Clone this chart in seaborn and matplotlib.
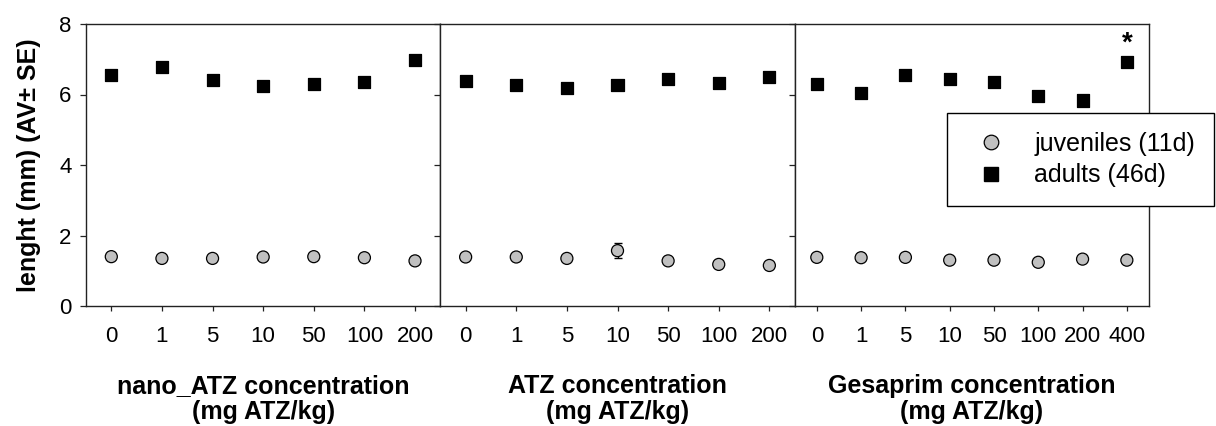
import numpy as np
import pandas as pd
import matplotlib
matplotlib.use('Agg')
import matplotlib.pyplot as plt
from matplotlib.lines import Line2D
import seaborn as sns

# concentrations per product (mg ATZ/kg)
nano_conc = ['0', '1', '5', '10', '50', '100', '200']
atz_conc = ['0', '1', '5', '10', '50', '100', '200']
gesa_conc = ['0', '1', '5', '10', '50', '100', '200', '400']

# mean length (mm) and SE
nano_juv = [1.40, 1.35, 1.35, 1.39, 1.40, 1.37, 1.28]
nano_juv_se = [0.04, 0.04, 0.04, 0.04, 0.04, 0.04, 0.04]
nano_adu = [6.55, 6.79, 6.40, 6.24, 6.29, 6.35, 6.98]
nano_adu_se = [0.05, 0.05, 0.05, 0.05, 0.05, 0.05, 0.05]

atz_juv = [1.39, 1.39, 1.35, 1.57, 1.28, 1.18, 1.15]
atz_juv_se = [0.04, 0.04, 0.04, 0.21, 0.04, 0.04, 0.04]
atz_adu = [6.37, 6.27, 6.19, 6.27, 6.44, 6.33, 6.51]
atz_adu_se = [0.05, 0.05, 0.05, 0.05, 0.05, 0.05, 0.05]

gesa_juv = [1.38, 1.37, 1.38, 1.30, 1.30, 1.24, 1.33, 1.30]
gesa_juv_se = [0.04, 0.04, 0.04, 0.04, 0.04, 0.04, 0.04, 0.04]
gesa_adu = [6.29, 6.03, 6.54, 6.44, 6.35, 5.95, 5.83, 6.93]
gesa_adu_se = [0.05, 0.05, 0.05, 0.05, 0.05, 0.05, 0.05, 0.10]

panels = [
    ('nano_ATZ concentration\n(mg ATZ/kg)', nano_conc, nano_juv, nano_juv_se, nano_adu, nano_adu_se),
    ('ATZ concentration\n(mg ATZ/kg)', atz_conc, atz_juv, atz_juv_se, atz_adu, atz_adu_se),
    ('Gesaprim concentration\n(mg ATZ/kg)', gesa_conc, gesa_juv, gesa_juv_se, gesa_adu, gesa_adu_se),
]

sns.set_theme(style='white')
plt.rcParams['font.family'] = ['Liberation Sans', 'DejaVu Sans']
plt.rcParams['text.color'] = 'black'
plt.rcParams['axes.labelcolor'] = 'black'

W, H = 1216, 426
fig = plt.figure(figsize=(W / 100, H / 100), dpi=100)
fig.subplots_adjust(left=86 / W, right=1149 / W, bottom=1 - 306 / H, top=1 - 24 / H, wspace=0)
axes = fig.subplots(1, 3, sharey=True)

juv_color = '#c0c0c0'
for i, (ax, (label, conc, juv, juv_se, adu, adu_se)) in enumerate(zip(axes, panels)):
    pos = np.arange(len(conc))
    df = pd.DataFrame({
        'pos': np.concatenate([pos, pos]),
        'mean': juv + adu,
        'se': juv_se + adu_se,
        'stage': ['juv'] * len(conc) + ['adu'] * len(conc),
    })
    ax.errorbar(df['pos'], df['mean'], yerr=df['se'], fmt='none', ecolor='black',
                elinewidth=1, capsize=3, capthick=1, zorder=1)
    sns.scatterplot(data=df, x='pos', y='mean', hue='stage', style='stage',
                    markers={'juv': 'o', 'adu': 's'},
                    palette={'juv': juv_color, 'adu': 'black'},
                    edgecolor='black', linewidth=0.9, s=75, ax=ax, legend=False, zorder=3)
    ax.set_xlim(-0.5, len(conc) - 0.5)
    ax.set_ylim(0, 8)
    ax.set_yticks([0, 2, 4, 6, 8])
    ax.set_xticks(pos)
    ax.set_xticklabels(conc)
    ax.set_xlabel(label, fontsize=18, fontweight='bold', labelpad=19, linespacing=1.12)
    ax.set_ylabel('')
    for sp in ax.spines.values():
        sp.set_color('#222222')
        sp.set_linewidth(1.0)
    ax.tick_params(axis='x', direction='out', length=3.5, width=0.9, pad=11,
                   labelsize=16, bottom=True, colors='#222222', labelcolor='black')
    ax.tick_params(axis='y', direction='out', length=4.5, width=0.9, pad=6,
                   labelsize=16, left=True, colors='#222222', labelcolor='black',
                   labelleft=(i == 0))

axes[0].set_ylabel('lenght (mm) (AV± SE)', fontsize=18, fontweight='bold', labelpad=13)

# significance mark
axes[2].text(len(gesa_conc) - 1, 7.45, '*', ha='center', va='center',
             fontsize=20, fontweight='bold')

handles = [
    Line2D([], [], marker='o', linestyle='none', markersize=10.5, markerfacecolor=juv_color,
           markeredgecolor='black', markeredgewidth=0.9),
    Line2D([], [], marker='s', linestyle='none', markersize=10, markerfacecolor='black',
           markeredgecolor='black'),
]
leg = fig.legend(handles, ['juveniles (11d)', 'adults (46d)'], loc='upper left',
                 bbox_to_anchor=(947 / W, 1 - 113 / H), borderaxespad=0,
                 fontsize=18, frameon=True, fancybox=False, framealpha=1,
                 edgecolor='black', borderpad=0.75, handlelength=2.0,
                 handletextpad=0.75, labelspacing=0.3)
leg.get_frame().set_linewidth(1.0)

fig.savefig('out.png', dpi=100)
